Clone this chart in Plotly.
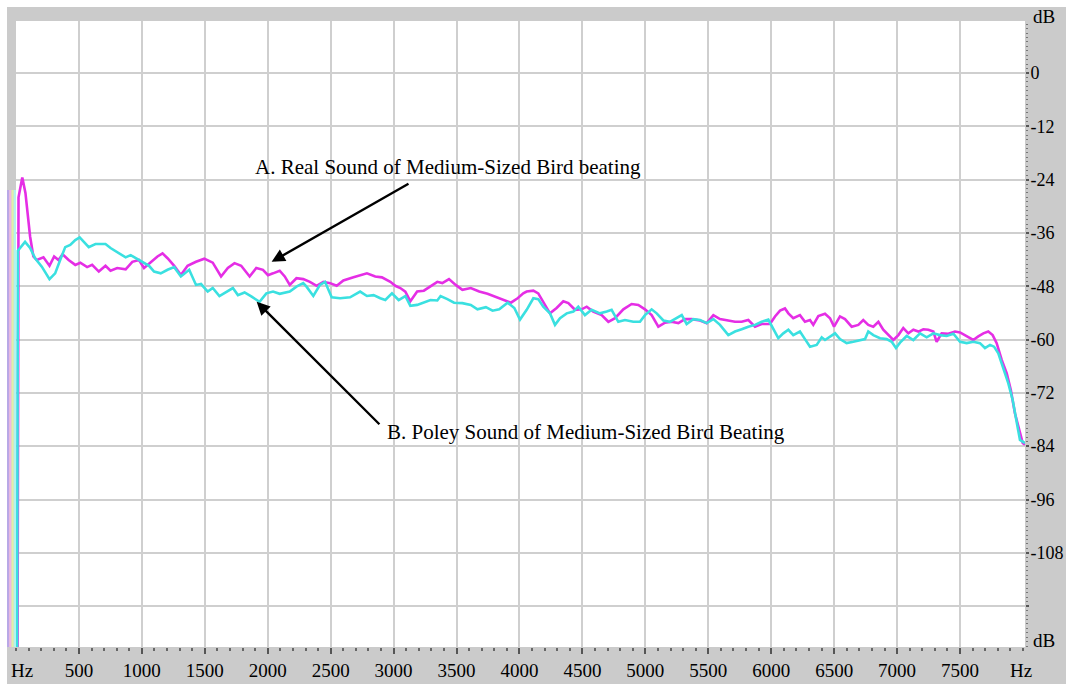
import plotly.graph_objects as go

# ---- data (Hz, dB) ----
freq_real = [12, 20, 50, 75, 112, 138, 165, 218, 266, 303, 338, 370, 418, 471, 511, 565, 605, 658, 711, 751,
             804, 871, 924, 977, 1017, 1070, 1124, 1164, 1204, 1257, 1310, 1363, 1430, 1496, 1563, 1629, 1683,
             1736, 1789, 1856, 1909, 1962, 2002, 2042, 2095, 2135, 2175, 2228, 2282, 2335, 2388, 2442, 2495,
             2548, 2601, 2681, 2788, 2854, 2907, 2974, 3013, 3053, 3093, 3133, 3187, 3240, 3293, 3347, 3387,
             3440, 3493, 3546, 3613, 3680, 3746, 3826, 3879, 3932, 3985, 4030, 4057, 4110, 4149, 4189, 4242,
             4295, 4348, 4388, 4441, 4494, 4534, 4586, 4653, 4706, 4759, 4825, 4891, 4944, 4997, 5050, 5103,
             5156, 5209, 5262, 5315, 5368, 5434, 5487, 5540, 5593, 5646, 5712, 5765, 5818, 5871, 5924, 5990,
             6030, 6070, 6109, 6136, 6175, 6228, 6268, 6308, 6334, 6374, 6427, 6467, 6499, 6546, 6586, 6639,
             6692, 6731, 6771, 6811, 6851, 6890, 6930, 6970, 7010, 7049, 7089, 7129, 7169, 7208, 7248, 7288,
             7314, 7354, 7407, 7460, 7500, 7553, 7605, 7645, 7685, 7724, 7759, 7791, 7831, 7871, 7903, 7936,
             7971, 7998, 8016]
db_real = [-135, -28, -23.5, -27, -36.8, -41.3, -42.1, -41.5, -43.4, -41.3, -42.1, -40.8, -42.1, -43.2, -42.7,
           -43.7, -43.2, -44.7, -43.4, -44.5, -43.9, -44.2, -42.5, -42.1, -43.9, -42.5, -41.3, -40.6, -41.7,
           -43.4, -45.5, -43.4, -42.5, -41.8, -42.7, -45.8, -43.9, -42.8, -43.4, -45.8, -43.9, -44.3, -45.5,
           -45.1, -44.5, -45.8, -47.7, -46.2, -46.4, -47.0, -47.9, -47.0, -47.3, -47.9, -46.7, -46.0, -45.1,
           -45.8, -46.0, -47.0, -47.9, -48.4, -49.2, -51.4, -49.2, -49.0, -48.1, -47.0, -47.3, -46.4, -47.7,
           -48.8, -48.4, -49.2, -49.7, -50.5, -51.2, -51.7, -50.7, -49.6, -49.2, -49.0, -49.6, -51.4, -54.1,
           -52.9, -51.4, -51.8, -53.3, -53.2, -52.6, -53.7, -54.5, -56.0, -55.2, -53.2, -52.0, -52.2, -53.2,
           -54.5, -57.1, -56.2, -56.0, -56.3, -55.4, -55.4, -55.7, -56.3, -54.5, -55.4, -55.6, -56.0, -56.0,
           -55.6, -57.1, -56.5, -56.5, -54.8, -53.5, -53.0, -54.1, -55.2, -54.5, -56.0, -55.6, -56.7, -54.7,
           -54.2, -55.2, -57.1, -54.8, -55.4, -57.1, -56.7, -55.6, -56.7, -57.1, -56.0, -57.8, -59.0, -60.1,
           -59.0, -57.4, -58.6, -57.8, -58.2, -57.7, -57.8, -58.2, -60.5, -58.6, -58.7, -58.2, -58.4, -59.3,
           -60.1, -59.3, -58.6, -58.2, -59.0, -60.8, -64.6, -67.6, -71.3, -76.6, -80.3, -83.3, -83.7]

freq_foley = [8, 15, 72, 112, 152, 205, 266, 311, 351, 391, 431, 471, 506, 538, 578, 631, 711, 751, 804, 871,
              911, 964, 1017, 1057, 1097, 1150, 1204, 1257, 1310, 1376, 1430, 1470, 1523, 1563, 1616, 1669,
              1723, 1763, 1816, 1869, 1935, 1989, 2042, 2095, 2175, 2228, 2282, 2308, 2362, 2415, 2455, 2508,
              2575, 2654, 2734, 2788, 2841, 2894, 2934, 2987, 3040, 3093, 3133, 3187, 3240, 3293, 3347, 3373,
              3427, 3480, 3546, 3613, 3666, 3733, 3786, 3839, 3906, 3959, 4004, 4057, 4110, 4149, 4189, 4242,
              4282, 4322, 4375, 4428, 4467, 4520, 4573, 4639, 4693, 4732, 4785, 4838, 4904, 4957, 4997, 5050,
              5090, 5143, 5195, 5249, 5289, 5328, 5381, 5434, 5487, 5540, 5593, 5659, 5712, 5765, 5818, 5871,
              5924, 5977, 6030, 6056, 6096, 6136, 6175, 6228, 6268, 6308, 6361, 6401, 6427, 6467, 6507, 6546,
              6599, 6652, 6705, 6745, 6771, 6811, 6864, 6917, 6957, 6991, 7023, 7076, 7129, 7182, 7235, 7288,
              7341, 7394, 7447, 7500, 7553, 7605, 7658, 7698, 7738, 7770, 7804, 7844, 7883, 7918, 7950, 7976,
              8016]
db_foley = [-135, -40, -38.0, -39.4, -41.7, -43.6, -46.4, -45.1, -42.1, -39.2, -38.7, -37.6, -37.0, -38.0,
            -39.2, -38.5, -38.5, -39.4, -40.4, -41.5, -41.0, -41.9, -42.8, -43.4, -44.7, -45.1, -44.3, -43.7,
            -45.8, -44.3, -47.7, -47.5, -49.2, -48.4, -50.2, -49.4, -48.4, -50.0, -49.4, -50.3, -51.5, -49.6,
            -49.2, -49.7, -49.2, -48.1, -47.3, -48.1, -50.2, -47.7, -47.0, -50.5, -50.7, -50.5, -49.2, -50.2,
            -50.0, -50.7, -51.1, -49.6, -51.1, -50.2, -52.4, -52.2, -51.7, -51.1, -51.2, -50.2, -50.9, -51.7,
            -51.8, -52.2, -53.2, -52.7, -53.5, -53.2, -51.7, -52.9, -55.5, -53.3, -50.7, -50.9, -52.6, -54.1,
            -56.7, -55.2, -54.1, -53.7, -52.6, -54.5, -53.3, -54.1, -53.7, -53.3, -56.0, -55.6, -56.0, -56.0,
            -54.5, -53.2, -54.1, -55.7, -56.0, -55.2, -54.5, -56.5, -55.4, -55.6, -56.3, -55.4, -56.7, -59.0,
            -58.2, -57.7, -57.1, -56.7, -56.0, -55.5, -58.2, -59.7, -58.6, -57.8, -59.0, -58.2, -59.9, -61.6,
            -61.2, -59.5, -60.1, -59.3, -58.6, -59.9, -60.8, -60.5, -60.1, -59.9, -58.2, -59.0, -59.7, -59.9,
            -60.5, -61.9, -60.7, -59.2, -60.1, -58.6, -59.5, -58.6, -59.0, -59.2, -58.7, -60.5, -60.8, -60.5,
            -60.8, -61.9, -61.2, -61.6, -63.1, -66.4, -69.8, -73.6, -78.1, -82.6, -83.3]

x_tick_vals = [500, 1000, 1500, 2000, 2500, 3000, 3500, 4000, 4500, 5000, 5500, 6000, 6500, 7000, 7500]
x_tick_text = [str(v) for v in x_tick_vals]
y_tick_vals = [0, -12, -24, -36, -48, -60, -72, -84, -96, -108, -120]
y_tick_text = ["0", "-12", "-24", "-36", "-48", "-60", "-72", "-84", "-96", "-108", ""]

label_a = "A. Real Sound of Medium-Sized Bird beating"
label_b = "B. Poley Sound of Medium-Sized Bird Beating"

X_RANGE = [0, 8016]
Y_RANGE = [-129.2, 11.7]
FONT = "Liberation Serif"
GRID = "#cfcfcf"
FRAME = "#cbcbcb"

fig = go.Figure()
fig.add_trace(go.Scatter(x=freq_real, y=db_real, mode="lines",
                         line=dict(color="#e52ee5", width=2.6), name="Real", showlegend=False))
fig.add_trace(go.Scatter(x=freq_foley, y=db_foley, mode="lines",
                         line=dict(color="#3ae0e0", width=2.6), name="Foley", showlegend=False))

W, H = 1066, 684
L, R, T, B = 16, 41, 21, 37
pw, ph = W - L - R, H - T - B


def px2paper_x(px):
    return (px - L) / pw


def px2paper_y(py):
    return (H - B - py) / ph


shapes = []
# white outer margin strips (top and left)
shapes.append(dict(type="rect", xref="paper", yref="paper", x0=px2paper_x(-2), x1=px2paper_x(W + 2),
                   y0=px2paper_y(7), y1=px2paper_y(-2), fillcolor="white", line=dict(width=0), layer="below"))
shapes.append(dict(type="rect", xref="paper", yref="paper", x0=px2paper_x(-2), x1=px2paper_x(7),
                   y0=px2paper_y(H + 2), y1=px2paper_y(-2), fillcolor="white", line=dict(width=0), layer="below"))
# pastel artefact stripes at the left edge
stripe_cols = ["#b9a8e6", "#f2b6e4", "#e2f0a8", "#b4f2f0"]
for i, c in enumerate(stripe_cols):
    shapes.append(dict(type="rect", xref="paper", yref="paper", x0=px2paper_x(7 + i * 2.25),
                       x1=px2paper_x(7 + (i + 1) * 2.25), y0=0, y1=px2paper_y(190),
                       fillcolor=c, line=dict(width=0), layer="below"))

annotations = [
    dict(x=1882, y=-21.15, xref="x", yref="y", text=label_a, showarrow=False, xanchor="left",
         yanchor="middle", font=dict(family=FONT, size=21, color="black")),
    dict(x=2931, y=-80.8, xref="x", yref="y", text=label_b, showarrow=False, xanchor="left",
         yanchor="middle", font=dict(family=FONT, size=21, color="black")),
    dict(x=2031, y=-42.5, ax=3130, ay=-24.75, xref="x", yref="y", axref="x", ayref="y", text="",
         showarrow=True, arrowhead=2, arrowsize=1.1, arrowwidth=2.4, arrowcolor="black"),
    dict(x=1912, y=-51.5, ax=2899, ay=-79.4, xref="x", yref="y", axref="x", ayref="y", text="",
         showarrow=True, arrowhead=2, arrowsize=1.1, arrowwidth=2.4, arrowcolor="black"),
    # axis unit labels
    dict(x=px2paper_x(22), y=px2paper_y(670), xref="paper", yref="paper", text="Hz", showarrow=False,
         xanchor="center", yanchor="middle", font=dict(family=FONT, size=19, color="black")),
    dict(x=px2paper_x(1021), y=px2paper_y(670), xref="paper", yref="paper", text="Hz", showarrow=False,
         xanchor="center", yanchor="middle", font=dict(family=FONT, size=19, color="black")),
    dict(x=px2paper_x(1031), y=px2paper_y(17), xref="paper", yref="paper", text="dB", showarrow=False,
         xanchor="left", yanchor="middle", font=dict(family=FONT, size=19, color="black")),
    dict(x=px2paper_x(1031), y=px2paper_y(640), xref="paper", yref="paper", text="dB", showarrow=False,
         xanchor="left", yanchor="middle", font=dict(family=FONT, size=19, color="black")),
]

fig.update_layout(
    width=W, height=H,
    margin=dict(l=L, r=R, t=T, b=B, pad=0, autoexpand=False),
    paper_bgcolor=FRAME, plot_bgcolor="white",
    shapes=shapes, annotations=annotations,
    xaxis=dict(range=X_RANGE, tickmode="array", tickvals=x_tick_vals, ticktext=x_tick_text,
               automargin=False,
               showgrid=True, gridcolor=GRID, gridwidth=1.5, zeroline=False, showline=False,
               ticks="outside", ticklen=6, tickwidth=1.5, tickcolor="#555555",
               tickfont=dict(family=FONT, size=19, color="black"),
               minor=dict(dtick=100, tick0=0, ticks="outside", ticklen=3, tickwidth=1.5,
                          tickcolor="#666666", showgrid=False),
               fixedrange=True),
    yaxis=dict(range=Y_RANGE, side="right", tickmode="array", tickvals=y_tick_vals, ticktext=y_tick_text,
               automargin=False, ticklabelstandoff=-2,
               showgrid=True, gridcolor=GRID, gridwidth=1.5, zeroline=False, showline=False,
               ticks="outside", ticklen=3, tickwidth=2, tickcolor="#555555",
               tickfont=dict(family=FONT, size=18, color="black"),
               minor=dict(dtick=1, tick0=0, ticks="outside", ticklen=2, tickwidth=1,
                          tickcolor="#777777", showgrid=False),
               fixedrange=True),
)

fig.write_html("out.html")
